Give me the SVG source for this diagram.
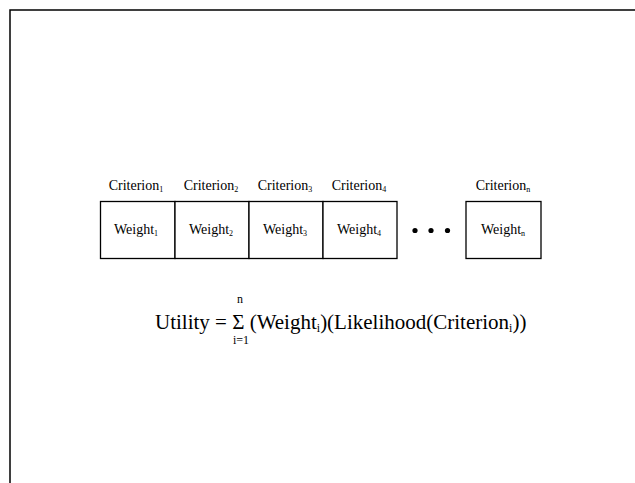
<svg xmlns="http://www.w3.org/2000/svg" width="635" height="483" viewBox="0 0 635 483">
  <style>
    .frame { fill: none; stroke: #000; stroke-width: 1.5; }
    .box { fill: #fff; stroke: #000; stroke-width: 1.3; }
    text { font-family: 'Liberation Serif', 'Times New Roman', serif; fill: #000; }
    .lbl { font-size: 14px; text-anchor: middle; }
    .eq { font-size: 21px; }
    .lim { font-size: 12px; text-anchor: middle; }
  </style>
  <rect width="635" height="483" fill="#fff"/>
  <!-- page frame: top and left edges -->
  <path class="frame" d="M10 483 V10 H635"/>

  <g id="node-1">
    <rect class="box" x="100.5" y="201.5" width="74.5" height="57"/>
    <text class="lbl" x="136" y="190" font-family="Liberation Serif, serif">Criterion<tspan font-size="8" dy="2">1</tspan></text>
    <text class="lbl" x="136" y="234" font-family="Liberation Serif, serif">Weight<tspan font-size="8" dy="2">1</tspan></text>
  </g>
  <g id="node-2">
    <rect class="box" x="175" y="201.5" width="74" height="57"/>
    <text class="lbl" x="211" y="190" font-family="Liberation Serif, serif">Criterion<tspan font-size="8" dy="2">2</tspan></text>
    <text class="lbl" x="211" y="234" font-family="Liberation Serif, serif">Weight<tspan font-size="8" dy="2">2</tspan></text>
  </g>
  <g id="node-3">
    <rect class="box" x="249" y="201.5" width="74" height="57"/>
    <text class="lbl" x="285" y="190" font-family="Liberation Serif, serif">Criterion<tspan font-size="8" dy="2">3</tspan></text>
    <text class="lbl" x="285" y="234" font-family="Liberation Serif, serif">Weight<tspan font-size="8" dy="2">3</tspan></text>
  </g>
  <g id="node-4">
    <rect class="box" x="323" y="201.5" width="74" height="57"/>
    <text class="lbl" x="359" y="190" font-family="Liberation Serif, serif">Criterion<tspan font-size="8" dy="2">4</tspan></text>
    <text class="lbl" x="359" y="234" font-family="Liberation Serif, serif">Weight<tspan font-size="8" dy="2">4</tspan></text>
  </g>
  <g id="ellipsis">
    <circle cx="415" cy="230.5" r="2.6"/>
    <circle cx="431" cy="230.5" r="2.6"/>
    <circle cx="447.5" cy="230.5" r="2.6"/>
  </g>
  <g id="node-n">
    <rect class="box" x="466" y="201.5" width="75" height="57"/>
    <text class="lbl" x="503" y="190" font-family="Liberation Serif, serif">Criterion<tspan font-size="8" dy="2">n</tspan></text>
    <text class="lbl" x="503" y="234" font-family="Liberation Serif, serif">Weight<tspan font-size="8" dy="2">n</tspan></text>
  </g>

  <g id="formula">
    <text class="lim" x="240" y="303" font-family="Liberation Serif, serif">n</text>
    <text class="eq" x="155" y="329" font-family="Liberation Serif, serif">Utility = Σ (Weight<tspan font-size="12" dy="3">i</tspan><tspan dy="-3">)(Likelihood(Criterion</tspan><tspan font-size="12" dy="3">i</tspan><tspan dy="-3">))</tspan></text>
    <text class="lim" x="241" y="344" font-family="Liberation Serif, serif">i=1</text>
  </g>
</svg>
